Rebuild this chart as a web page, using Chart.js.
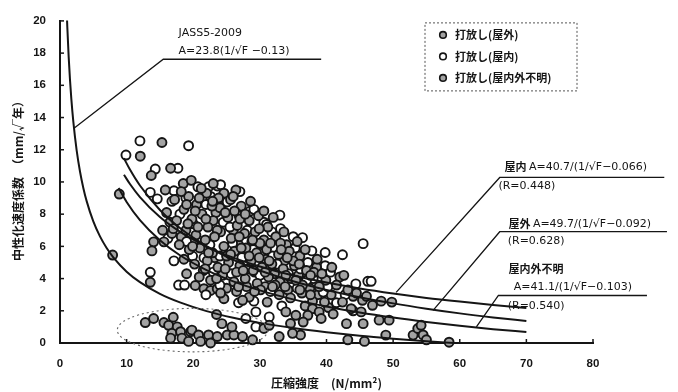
<!DOCTYPE html>
<html><head><meta charset="utf-8">
<script src="https://cdn.jsdelivr.net/npm/chart.js@4.4.0/dist/chart.umd.min.js"></script>
<style>html,body{margin:0;padding:0;background:#fff}</style>
</head><body>
<canvas id="c" width="678" height="392"></canvas>
<script>
// ---------- data ----------
const seriesLabels = ['打放し(屋外)', '打放し(屋内)', '打放し(屋内外不明)'];
const xTickVals = [0, 10, 20, 30, 40, 50, 60, 70, 80];
const yTickVals = [0, 2, 4, 6, 8, 10, 12, 14, 16, 18, 20];

const outdoorPts = [
 [15.3,12.45],[12.05,11.6],[13.7,10.4],[16.6,10.85],[8.9,9.25],[15.8,9.5],[18.5,9.9],[19.7,10.1],[19.3,9.1],[13.55,3.77],[14.05,6.28],[15.6,6.28],[13.8,5.72],[7.9,5.46],
 [17.2,8.9],[20.5,8.6],[22.0,9.3],[25.6,8.9],[18.6,8.3],[21.3,8.0],[24.0,8.4],[27.2,8.5],[29.8,7.9],
 [16.0,8.1],[17.5,7.6],[19.8,7.7],[23.0,7.6],[25.2,7.8],[26.6,7.3],[28.4,7.6],[31.2,7.2],[22.2,7.2],
 [15.4,7.0],[16.8,6.8],[18.9,7.0],[20.4,6.7],[21.8,6.4],[24.1,6.9],[25.7,6.5],[27.7,6.8],[29.3,6.9],[30.6,6.4],[32.4,6.6],[34.0,6.1],
 [17.9,6.1],[19.4,5.8],[21.0,5.9],[22.9,5.6],[24.6,6.0],[26.2,5.7],[27.9,5.9],[29.5,5.6],[31.0,5.8],[32.8,5.5],[34.4,5.7],[36.0,5.4],
 [18.6,5.2],[20.2,4.9],[22.1,5.1],[23.7,4.7],[25.3,5.0],[27.0,4.8],[28.7,5.1],[30.3,4.7],[31.8,4.9],[33.5,4.6],[35.2,4.8],[37.0,4.5],[38.5,4.7],
 [20.9,4.1],[22.6,3.9],[24.4,4.2],[26.1,3.8],[27.8,4.0],[29.6,3.7],[31.3,4.1],[33.0,3.8],[34.7,4.0],[36.4,3.6],[38.1,4.39],[39.9,3.9],[41.5,3.6],[43.2,3.3],
 [24.6,2.75],[26.5,3.2],[28.4,2.85],[30.1,3.3],[31.1,2.54],[32.9,3.0],[34.6,2.8],[36.3,3.1],[37.9,2.6],[39.7,2.54],[42.4,2.54],[43.7,2.13],[45.2,1.93],[45.4,2.65],[46.9,2.34],[49.8,2.54],[27.4,2.65],
 [33.9,1.93],[35.4,1.72],[37.9,2.13],[38.9,1.93],[37.2,1.72],[39.2,1.52],[47.9,1.42],[49.4,1.42],[41.0,1.8],[36.5,1.3],[43.0,1.2],
 [48.9,0.49],[53.0,0.49],[53.7,0.9],[54.2,1.1],[54.5,0.5],[43.2,0.2],[45.7,0.1],[36.1,0.5],[32.9,0.4],[28.9,0.2],[27.4,0.4],[30.6,0.9],[31.4,1.1],[34.9,0.6],[34.6,1.21],[58.4,0.05],[55.0,0.2],
 [21.2,9.6],[23.0,9.9],[24.6,9.3],[26.4,9.5],[20.3,8.2],[22.8,8.5],[26.2,8.2],[28.6,8.8],[19.2,7.4],[23.6,7.0],[27.0,7.7],[29.9,7.1],[32.0,7.8],[33.6,6.9],[35.6,6.3],
 [25.0,5.4],[28.4,5.4],[30.0,6.2],[33.1,6.2],[35.0,5.1],[36.8,5.8],[38.6,5.2],[26.5,4.4],[29.0,4.5],[32.3,3.6],[35.4,3.9],[38.9,3.5],[40.8,4.7],[42.6,4.2],[44.5,3.1],[46.0,2.9],[48.2,2.6],[45.5,1.2],
 [18.2,9.4],[20.9,9.0],[23.8,9.0],[19.0,8.6],[21.9,7.7],[24.8,8.1],[27.8,8.0],[30.6,8.2],[17.0,7.1],[20.7,7.2],[23.2,6.6],[26.9,6.6],[28.9,6.4],[31.6,6.2],[33.2,5.8],
 [19.9,6.0],[22.3,5.6],[25.6,5.5],[27.2,5.9],[29.9,5.3],[31.4,5.1],[34.1,5.3],[35.9,4.9],[21.8,4.6],[24.8,4.6],[27.5,4.5],[30.8,4.4],[33.9,4.2],[37.6,4.2],[23.5,4.0],
 [26.8,3.5],[29.2,3.2],[31.9,3.5],[33.8,3.5],[36.0,3.3],[37.6,3.0],[39.3,4.3],[24.1,3.1],[22.9,8.8],[26.0,9.1]
];

const indoorPts = [
 [12.0,12.55],[19.3,12.25],[9.9,11.67],[14.3,10.8],[17.7,10.85],[20.7,9.7],[22.3,9.7],[23.6,9.75],[13.55,9.35],[17.1,9.45],[14.6,8.95],[16.8,8.8],[22.6,9.1],[23.5,8.9],[24.8,8.74],[25.1,8.76],
 [33.0,7.94],[28.5,8.18],[29.1,8.3],[30.6,7.5],[31.0,7.36],[36.4,6.54],[24.1,9.83],[45.5,6.17],[39.8,5.62],[42.4,5.48],[39.8,4.8],[37.8,5.72],[44.4,3.67],[46.2,3.83],[46.7,3.83],[39.5,3.16],
 [29.4,1.93],[31.4,1.62],[27.9,1.52],[29.4,1.0],[13.55,4.39],[17.1,5.1],[17.8,3.6],[18.7,3.6],
 [18.0,8.0],[20.0,7.4],[21.9,8.6],[24.5,7.5],[26.9,7.9],[28.1,7.0],[31.8,6.9],[33.1,7.1],[35.0,6.6],[16.2,6.5],[19.0,6.3],[22.5,6.1],[24.0,5.4],[25.9,6.2],[27.3,5.3],[29.0,5.8],[30.4,6.1],
 [31.9,5.4],[33.7,6.0],[35.3,5.9],[37.2,5.0],[19.9,5.4],[21.6,5.3],[23.0,4.4],[25.7,4.3],[28.3,4.6],[30.0,4.2],[32.6,4.9],[34.3,4.3],[36.1,4.6],[38.0,4.0],[40.6,4.4],
 [21.9,3.0],[24.0,3.6],[26.8,2.5],[29.1,2.6],[31.6,3.2],[33.3,2.3],[35.6,3.4],[37.0,3.9],[40.2,3.5],[42.8,3.0],[44.0,2.0],[41.5,2.5],[27.0,9.4],[18.9,9.0],[25.5,7.2]
];

const unknownPts = [
 [12.8,1.27],[14.05,1.52],[15.6,1.27],[16.3,1.1],[17.6,1.0],[16.8,0.6],[18.1,0.7],[19.6,0.7],[19.8,0.8],[20.8,0.5],[16.6,0.3],[18.3,0.3],[19.3,0.1],[21.1,0.1],[22.3,0.5],[23.6,0.4],[25.1,0.5],[26.1,0.5],[22.6,0.0],
 [23.5,1.77],[20.3,3.57],[21.6,3.37],[22.6,3.26],[23.6,3.37],[24.3,1.2],[25.8,1.0],[17.0,1.6],
 [19.0,4.3],[21.5,4.5],[23.2,5.3],[26.8,6.1],[28.8,6.3],[30.9,5.2],[32.2,4.3],[35.8,4.2],[37.5,3.4],[40.7,3.0],[42.0,4.1],[44.0,2.9],[29.2,4.4],[25.0,3.4],[33.7,5.1],
 [20.0,6.3],[18.2,6.6],[23.4,8.1],[26.0,7.0],[16.5,7.5],[28.0,3.5],[30.8,3.5],[34.2,3.3],[38.7,3.0],[36.8,2.3],[40.3,2.2]
];

// curves
const jassF = [1.06,1.1,1.3,1.5,1.7,2,2.5,3,3.5,4,5,6,7,8,10,12,15,18,22,26,30,35,40,45,50,55,59.2];
const jassA = [20.02,19.60,17.78,16.34,15.16,13.74,11.96,10.65,9.63,8.81,7.55,6.62,5.90,5.32,4.43,3.78,3.05,2.52,1.98,1.57,1.25,0.93,0.67,0.45,0.27,0.11,0];
const regF = [9.6,10.5,12,15,18,22,26,30,35,40,45,50,55,60,65,70];
const indoorA = [10.45,9.87,9.06,7.82,6.91,5.99,5.30,4.75,4.19,3.75,3.38,3.07,2.80,2.57,2.36,2.18];
const outdoorA = [11.47,10.77,9.78,8.26,7.14,6.02,5.17,4.50,3.83,3.29,2.84,2.46,2.13,1.84,1.59,1.37];
const unknownF = [8.8,10,12,15,18,22,26,30,35,40,45,50,55,60,65,70];
const unknownA = [9.62,8.76,7.63,6.38,5.45,4.53,3.83,3.27,2.71,2.26,1.89,1.58,1.31,1.07,0.86,0.68];

// ---------- styles / layout ----------
const INK = '#151515';
const GRAY = '#a3a3a3';
const CJK = '"Noto Sans CJK JP"';
const LAT = '"DejaVu Sans", "Noto Sans CJK JP"';

const toXY = pts => pts.map(p => ({x: p[0], y: p[1]}));
const curve = (fs, as) => fs.map((f, i) => ({x: f, y: as[i]}));

function pointDs(label, pts, fill) {
  return { type: 'scatter', label, data: toXY(pts), backgroundColor: fill, borderColor: INK,
    borderWidth: 1.9, pointRadius: 4.5, pointHoverRadius: 4.5, clip: false, order: 2 };
}
function lineDs(label, data) {
  return { type: 'line', label, data, borderColor: INK, borderWidth: 2, pointRadius: 0,
    fill: false, cubicInterpolationMode: 'monotone', clip: false, order: 0 };
}

// annotations in data units (layout only): [bold part, normal part, x, y]
const notes = [
  { texts: [['', 'JASS5-2009', 17.8, 19.26], ['', 'A=23.8(1/√F −0.13)', 17.8, 18.13]],
    leader: [[2.1, 13.33], [15.5, 17.62], [39.2, 17.62]] },
  { texts: [['屋内 ', 'A=40.7/(1/√F−0.066)', 66.7, 10.95], ['', '(R=0.448)', 65.8, 9.72]],
    leader: [[50.45, 3.14], [66.0, 10.28], [90.7, 10.28]] },
  { texts: [['屋外 ', 'A=49.7/(1/√F−0.092)', 67.3, 7.4], ['', '(R=0.628)', 67.2, 6.34]],
    leader: [[56.0, 2.03], [66.0, 6.91], [91.1, 6.91]] },
  { texts: [['屋内外不明', '', 67.3, 4.62], ['', 'A=41.1/(1/√F−0.103)', 68.1, 3.45], ['', '(R=0.540)', 67.2, 2.28]],
    leader: [[62.5, 1.0], [65.8, 2.95], [88.1, 2.95]] }
];

const overlay = {
  id: 'overlay',
  afterDraw(chart) {
    const {ctx, chartArea: ca, scales: {x, y}} = chart;
    const px = v => x.getPixelForValue(v), py = v => y.getPixelForValue(v);
    ctx.save();
    // inward ticks
    ctx.strokeStyle = INK; ctx.lineWidth = 1.5;
    yTickVals.forEach(v => { ctx.beginPath(); ctx.moveTo(px(0), py(v)); ctx.lineTo(px(0) + 4, py(v)); ctx.stroke(); });
    xTickVals.forEach(v => { ctx.beginPath(); ctx.moveTo(px(v), py(0)); ctx.lineTo(px(v), py(0) - 4); ctx.stroke(); });
    // dashed ellipse
    ctx.setLineDash([2, 3]); ctx.strokeStyle = '#6a6a6a'; ctx.lineWidth = 1.1;
    ctx.beginPath();
    ctx.ellipse(px(19.9), py(0.8), px(31.2) - px(19.9), py(0.8) - py(2.15), 0, 0, Math.PI * 2);
    ctx.stroke();
    ctx.setLineDash([]);
    // leaders + texts
    ctx.strokeStyle = INK; ctx.lineWidth = 1.3; ctx.fillStyle = INK;
    ctx.textBaseline = 'middle'; ctx.textAlign = 'left';
    notes.forEach(n => {
      ctx.beginPath();
      n.leader.forEach((p, i) => { const X = px(p[0]), Y = py(p[1]); if (i) ctx.lineTo(X, Y); else ctx.moveTo(X, Y); });
      ctx.stroke();
      n.texts.forEach(t => {
        let X = px(t[2]); const Y = py(t[3]);
        if (t[0]) { ctx.font = 'bold 11px ' + CJK; ctx.fillText(t[0], X, Y); X += ctx.measureText(t[0]).width; }
        if (t[1]) { ctx.font = '11px ' + LAT; ctx.fillText(t[1], X, Y); }
      });
    });
    // legend box
    const lx = ca.left + 365, ly = ca.top + 2, lw = 152, lh = 68;
    ctx.setLineDash([2, 2]); ctx.strokeStyle = '#555'; ctx.lineWidth = 1;
    ctx.strokeRect(lx, ly, lw, lh);
    ctx.setLineDash([]);
    const fills = [GRAY, '#fff', GRAY];
    seriesLabels.forEach((lab, i) => {
      const cy = ly + 12 + i * 21.5;
      ctx.beginPath(); ctx.arc(lx + 18, cy, 3.3, 0, Math.PI * 2);
      ctx.fillStyle = fills[i]; ctx.fill(); ctx.lineWidth = 1.6; ctx.strokeStyle = INK; ctx.stroke();
      ctx.fillStyle = INK; ctx.font = 'bold 11px ' + CJK;
      ctx.fillText(lab, lx + 30, cy);
    });
    // axis titles
    ctx.font = 'bold 12px ' + CJK; ctx.textAlign = 'center';
    ctx.fillText('圧縮強度　(N/mm²)', (ca.left + ca.right) / 2, 383);
    ctx.save();
    ctx.translate(18, 178); ctx.rotate(-Math.PI / 2);
    ctx.fillText('中性化速度係数　（mm/√年）', 0, 0);
    ctx.restore();
    ctx.restore();
  }
};

new Chart(document.getElementById('c'), {
  type: 'scatter',
  data: {
    datasets: [
      lineDs('JASS5-2009', curve(jassF, jassA)),
      lineDs('屋内', curve(regF, indoorA)),
      lineDs('屋外', curve(regF, outdoorA)),
      lineDs('屋内外不明', curve(unknownF, unknownA)),
      pointDs(seriesLabels[0], outdoorPts, GRAY),
      pointDs(seriesLabels[1], indoorPts, '#ffffff'),
      pointDs(seriesLabels[2], unknownPts, GRAY)
    ]
  },
  options: {
    responsive: false, animation: false,
    layout: { padding: { top: 18, right: 85, left: 0, bottom: 0 } },
    plugins: { legend: { display: false }, tooltip: { enabled: false } },
    scales: {
      x: { type: 'linear', min: 0, max: 80,
        afterFit: s => { s.height = 49; },
        grid: { display: false, drawTicks: false },
        border: { display: true, color: INK, width: 2 },
        ticks: { stepSize: 10, padding: 14, color: INK, font: { family: 'Liberation Sans', size: 11.5, weight: 'bold' } } },
      y: { type: 'linear', min: 0, max: 20,
        afterFit: s => { s.width = 60; },
        grid: { display: false, drawTicks: false },
        border: { display: true, color: INK, width: 2 },
        ticks: { stepSize: 2, padding: 14, color: INK, font: { family: 'Liberation Sans', size: 11.5, weight: 'bold' } } }
    }
  },
  plugins: [overlay]
});
</script>
</body></html>
